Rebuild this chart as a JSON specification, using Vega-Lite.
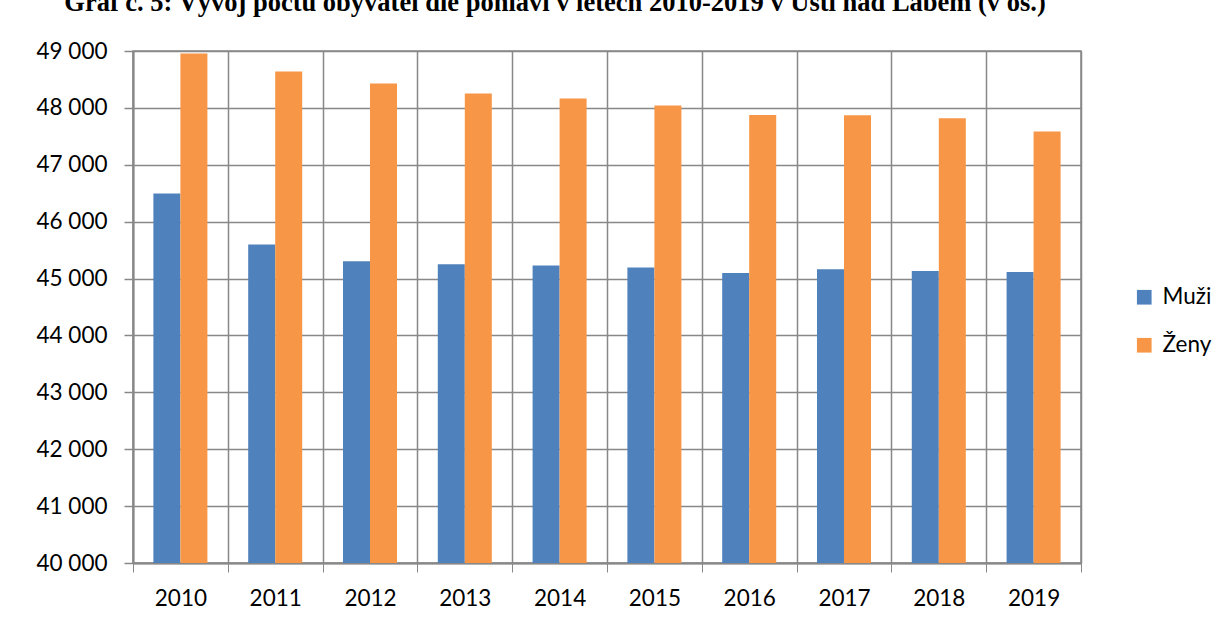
{
  "$schema": "https://vega.github.io/schema/vega-lite/v6.json",
  "width": 948,
  "height": 512,
  "autosize": {"type": "none"},
  "padding": {"left": 133, "top": 51, "right": 140, "bottom": 54},
  "background": "white",
  "title": {
    "text": "Graf č. 5: Vývoj počtu obyvatel dle pohlaví v letech 2010-2019 v Ústí nad Labem (v os.)",
    "font": "Liberation Serif",
    "fontSize": 26.5,
    "fontWeight": "bold",
    "color": "black",
    "anchor": "middle",
    "frame": "group",
    "baseline": "alphabetic",
    "dx": -52,
    "offset": 3
  },
  "data": {
    "values": [
      {"rok": "2010", "pohlavi": "Muži", "pocet": 46494},
      {"rok": "2010", "pohlavi": "Ženy", "pocet": 48954},
      {"rok": "2011", "pohlavi": "Muži", "pocet": 45598},
      {"rok": "2011", "pohlavi": "Ženy", "pocet": 48638},
      {"rok": "2012", "pohlavi": "Muži", "pocet": 45304},
      {"rok": "2012", "pohlavi": "Ženy", "pocet": 48427},
      {"rok": "2013", "pohlavi": "Muži", "pocet": 45251},
      {"rok": "2013", "pohlavi": "Ženy", "pocet": 48251},
      {"rok": "2014", "pohlavi": "Muži", "pocet": 45228},
      {"rok": "2014", "pohlavi": "Ženy", "pocet": 48163},
      {"rok": "2015", "pohlavi": "Muži", "pocet": 45193},
      {"rok": "2015", "pohlavi": "Ženy", "pocet": 48040},
      {"rok": "2016", "pohlavi": "Muži", "pocet": 45098},
      {"rok": "2016", "pohlavi": "Ženy", "pocet": 47877},
      {"rok": "2017", "pohlavi": "Muži", "pocet": 45163},
      {"rok": "2017", "pohlavi": "Ženy", "pocet": 47870},
      {"rok": "2018", "pohlavi": "Muži", "pocet": 45134},
      {"rok": "2018", "pohlavi": "Ženy", "pocet": 47817},
      {"rok": "2019", "pohlavi": "Muži", "pocet": 45116},
      {"rok": "2019", "pohlavi": "Ženy", "pocet": 47585}
    ]
  },
  "mark": {"type": "bar", "clip": true},
  "encoding": {
    "x": {
      "field": "rok",
      "type": "nominal",
      "scale": {"paddingInner": 0, "paddingOuter": 0},
      "axis": {
        "title": null,
        "labelAngle": 0,
        "bandPosition": 0,
        "grid": true,
        "gridColor": "#888888",
        "gridWidth": 1.5,
        "gridOpacity": 1,
        "ticks": true,
        "tickBand": "extent",
        "tickSize": 9,
        "tickColor": "#888888",
        "tickWidth": 1,
        "domainColor": "#888888",
        "domainWidth": 2,
        "labelPadding": 15,
        "labelFont": "Lato",
        "labelFontSize": 22.5,
        "labelColor": "black"
      }
    },
    "xOffset": {
      "field": "pohlavi",
      "type": "nominal",
      "scale": {"paddingOuter": 0.755, "paddingInner": 0}
    },
    "y": {
      "field": "pocet",
      "type": "quantitative",
      "scale": {"domain": [40000, 49000], "nice": false, "zero": false},
      "axis": {
        "title": null,
        "values": [40000, 41000, 42000, 43000, 44000, 45000, 46000, 47000, 48000, 49000],
        "format": ",.0f",
        "grid": true,
        "gridColor": "#888888",
        "gridWidth": 1.5,
        "gridOpacity": 1,
        "tickSize": 9,
        "tickColor": "#888888",
        "tickWidth": 1.5,
        "domainColor": "#888888",
        "domainWidth": 2,
        "labelPadding": 17,
        "labelFont": "Lato",
        "labelFontSize": 22.5,
        "labelColor": "black"
      }
    },
    "color": {
      "field": "pohlavi",
      "type": "nominal",
      "scale": {"domain": ["Muži", "Ženy"], "range": ["#4F81BD", "#F79646"]},
      "legend": {
        "title": null,
        "orient": "none",
        "legendX": 1000,
        "legendY": 235,
        "symbolType": "square",
        "symbolSize": 215,
        "symbolStrokeWidth": 0,
        "labelFont": "Lato",
        "labelFontSize": 22.5,
        "labelColor": "black",
        "labelOffset": 7,
        "rowPadding": 25
      }
    }
  },
  "config": {
    "locale": {
      "number": {"decimal": ",", "thousands": " ", "grouping": [3], "currency": ["", " Kč"]}
    },
    "view": {"stroke": "#888888", "strokeWidth": 1.5}
  }
}
